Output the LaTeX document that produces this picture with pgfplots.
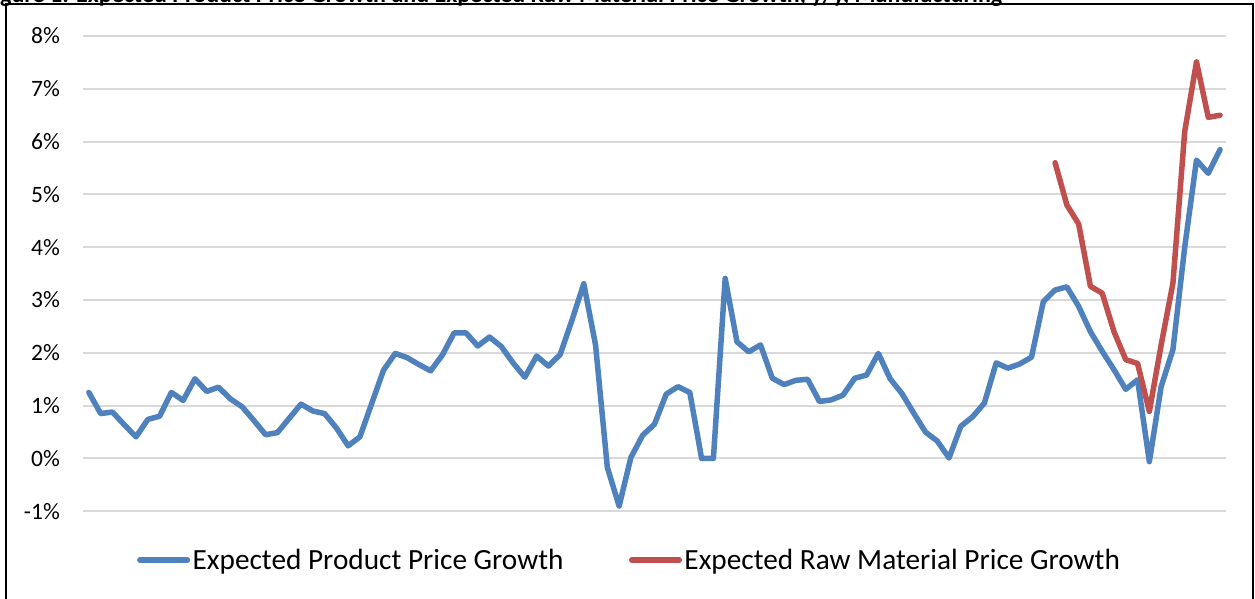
\documentclass[border=0pt]{standalone}
\usepackage{pgfplots}
\pgfplotsset{compat=1.18}
\usepackage{fontspec}
\setmainfont{Carlito}

\definecolor{prodblue}{HTML}{4F81BD}
\definecolor{rawred}{HTML}{C0504D}
\definecolor{gridgray}{HTML}{D9D9D9}

% Expected product price growth, quarterly, y/y in percent
\pgfplotstableread{
i v
0 1.25
1 0.85
2 0.88
3 0.64
4 0.41
5 0.74
6 0.80
7 1.25
8 1.10
9 1.51
10 1.27
11 1.35
12 1.13
13 0.98
14 0.72
15 0.45
16 0.49
17 0.76
18 1.03
19 0.90
20 0.85
21 0.58
22 0.24
23 0.41
24 1.04
25 1.67
26 1.99
27 1.91
28 1.78
29 1.66
30 1.96
31 2.38
32 2.38
33 2.13
34 2.30
35 2.12
36 1.81
37 1.54
38 1.94
39 1.75
40 1.97
41 2.62
42 3.31
43 2.15
44 -0.17
45 -0.90
46 0.02
47 0.44
48 0.65
49 1.22
50 1.36
51 1.25
52 0.00
53 0.00
54 3.41
55 2.21
56 2.02
57 2.15
58 1.52
59 1.40
60 1.48
61 1.50
62 1.08
63 1.11
64 1.20
65 1.52
66 1.58
67 1.99
68 1.51
69 1.23
70 0.86
71 0.50
72 0.33
73 0.01
74 0.61
75 0.79
76 1.05
77 1.81
78 1.71
79 1.79
80 1.92
81 2.97
82 3.19
83 3.25
84 2.88
85 2.40
86 2.03
87 1.68
88 1.31
89 1.49
90 -0.06
91 1.36
92 2.06
93 4.00
94 5.65
95 5.40
96 5.85
}\prodtable

% Expected raw material price growth, available for the later quarters
\pgfplotstableread{
i v
82 5.60
83 4.80
84 4.44
85 3.26
86 3.13
87 2.40
88 1.87
89 1.80
90 0.89
91 2.15
92 3.32
93 6.19
94 7.51
95 6.46
96 6.50
}\rawtable

\begin{document}
\begin{tikzpicture}
% chart heading, only its lower edge falls inside the frame
\node[anchor=base west, font=\bfseries\fontsize{24}{28}\selectfont, inner sep=0pt]
  at (0pt,-3pt) {gure 1: Expected Product Price Growth and Expected Raw Material Price Growth, y/y, Manufacturing};

\begin{axis}[
  at={(83pt,-511.3pt)}, anchor=south west,
  scale only axis,
  width=1143pt, height=475.3pt,
  xmin=-0.5, xmax=96.5,
  ymin=-1, ymax=8,
  axis line style={draw=none},
  xtick=\empty,
  ytick={-1,0,1,2,3,4,5,6,7,8},
  yticklabels={-1\%,0\%,1\%,2\%,3\%,4\%,5\%,6\%,7\%,8\%},
  major tick length=0pt,
  yticklabel style={anchor=east, inner sep=0pt, xshift=-23pt,
    font=\fontsize{23.5}{28}\selectfont},
  ymajorgrids,
  major grid style={draw=gridgray, line width=2pt},
  clip=false,
  legend columns=2,
  legend image code/.code={\draw[#1, line width=5.5pt, line cap=round] (2.75pt,0pt) -- (50.25pt,0pt);},
  legend style={at={(0.0472,-0.1025)}, anchor=west, draw=none, fill=none,
    inner sep=0pt, font=\fontsize{29.3}{34}\selectfont,
    nodes={inner sep=2.5pt},
    /tikz/every even column/.append style={column sep=63pt}},
]
\addplot[prodblue, line width=5.5pt, line join=round, line cap=round] table[x=i, y=v] {\prodtable};
\addlegendentry{Expected Product Price Growth}
\addplot[rawred, line width=5.5pt, line join=round, line cap=round] table[x=i, y=v] {\rawtable};
\addlegendentry{Expected Raw Material Price Growth}
\end{axis}

% outer frame of the chart area
\draw[black, line width=2pt] (6pt,-620pt) -- (6pt,-4pt) -- (1253pt,-4pt) -- (1253pt,-620pt);

\pgfresetboundingbox
\useasboundingbox (0pt,0pt) rectangle (1255pt,-599pt);
\end{tikzpicture}
\end{document}
